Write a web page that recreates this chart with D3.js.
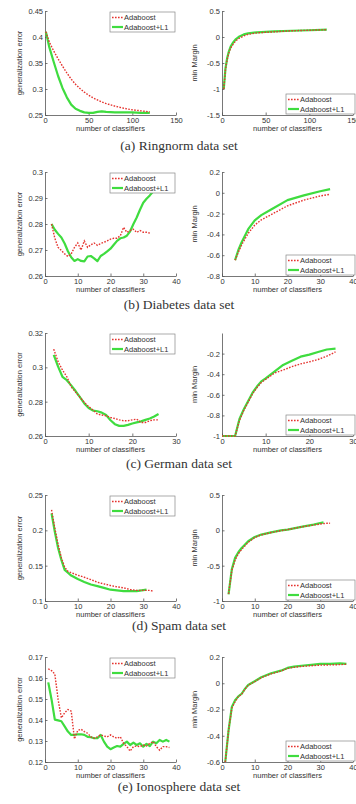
<!DOCTYPE html>
<html>
<head>
<meta charset="utf-8">
<script src="https://cdn.jsdelivr.net/npm/d3@7"></script>
<style>
    body { margin: 0; background: #fff; }
    .axis text { font-family: "Liberation Sans", Arial, sans-serif; font-size: 7.5px; fill: #333; }
    .axis path, .axis line { stroke: #555; stroke-width: 0.8; }
    .title { font-family: "Liberation Sans", Arial, sans-serif; font-size: 7.5px; fill: #333; }
    .caption { font-family: "Liberation Serif", "DejaVu Serif", serif; font-size: 13.5px; fill: #333; }
    .legend text { font-family: "Liberation Sans", Arial, sans-serif; font-size: 7.5px; fill: #333; }
</style>
</head>
<body>
<svg id="chart" width="356" height="804"></svg>
<script>
// (a) Ringnorm
const ringErrN = [1, 5, 10, 15, 20, 25, 30, 35, 40, 45, 50, 55, 60, 65, 70, 80, 90, 100, 110, 120];
const ringErrAda = [0.41, 0.39, 0.373, 0.358, 0.344, 0.331, 0.319, 0.309, 0.301, 0.294, 0.288, 0.283, 0.279, 0.275, 0.272, 0.267, 0.263, 0.26, 0.258, 0.256];
const ringErrL1 = [0.41, 0.38, 0.352, 0.325, 0.302, 0.284, 0.27, 0.262, 0.258, 0.255, 0.254, 0.254, 0.256, 0.257, 0.256, 0.255, 0.255, 0.255, 0.254, 0.254];
const ringMarN = [2, 3, 4, 6, 8, 10, 13, 16, 20, 25, 30, 40, 50, 60, 80, 100, 120];
const ringMarAda = [-1, -0.82, -0.62, -0.43, -0.3, -0.21, -0.13, -0.07, -0.02, 0.02, 0.05, 0.08, 0.09, 0.1, 0.12, 0.13, 0.14];
const ringMarL1 = [-1, -0.8, -0.6, -0.4, -0.27, -0.18, -0.1, -0.04, 0.01, 0.05, 0.07, 0.09, 0.1, 0.11, 0.12, 0.13, 0.14];

// (b) Diabetes
const diabErrAdaN = d3.range(2, 33);
const diabErrAda = [0.28, 0.2745, 0.271, 0.2698, 0.2685, 0.2675, 0.2685, 0.271, 0.2727, 0.27, 0.2735, 0.271, 0.272, 0.2727, 0.2718, 0.2725, 0.273, 0.2735, 0.2742, 0.2745, 0.2745, 0.2755, 0.2787, 0.2768, 0.2775, 0.278, 0.2768, 0.2775, 0.2768, 0.2768, 0.2765];
const diabErrL1N = d3.range(2, 35);
const diabErrL1 = [0.28, 0.2778, 0.2762, 0.2748, 0.2725, 0.2695, 0.2672, 0.2658, 0.2665, 0.2658, 0.2656, 0.2675, 0.2677, 0.2668, 0.2657, 0.2677, 0.2685, 0.2695, 0.2705, 0.272, 0.2735, 0.2745, 0.2748, 0.2755, 0.2772, 0.28, 0.2825, 0.2855, 0.2882, 0.2897, 0.291, 0.2925, 0.2935];
const diabMarN = [4, 5, 6, 8, 10, 12, 15, 20, 25, 30, 33];
const diabMarAda = [-0.648, -0.57, -0.5, -0.39, -0.31, -0.26, -0.21, -0.125, -0.07, -0.03, -0.015];
const diabMarL1 = [-0.648, -0.55, -0.475, -0.35, -0.265, -0.215, -0.16, -0.07, -0.025, 0.015, 0.035];

// (c) German
const germErrN = d3.range(2, 27);
const germErrAda = [0.3106, 0.3033, 0.2984, 0.2945, 0.2886, 0.2856, 0.2826, 0.2796, 0.2771, 0.2751, 0.2728, 0.2722, 0.2718, 0.2708, 0.2702, 0.2694, 0.2689, 0.2689, 0.2694, 0.2698, 0.2679, 0.2679, 0.2689, 0.2694, 0.2694];
const germErrL1 = [0.3072, 0.3004, 0.2945, 0.2925, 0.2895, 0.2862, 0.2826, 0.279, 0.2763, 0.2748, 0.2744, 0.2736, 0.2722, 0.2692, 0.2669, 0.2659, 0.2659, 0.2665, 0.2673, 0.2679, 0.2685, 0.2694, 0.2702, 0.2714, 0.2728];
const germMarN = [0, 1, 2, 3, 4, 5, 6, 7, 8, 9, 10, 12, 14, 16, 18, 20, 22, 24, 26];
const germMarAda = [-1, -1, -1, -1, -0.85, -0.75, -0.67, -0.59, -0.53, -0.48, -0.45, -0.39, -0.36, -0.327, -0.3, -0.28, -0.257, -0.225, -0.184];
const germMarL1 = [-1, -1, -1, -1, -0.835, -0.74, -0.66, -0.58, -0.52, -0.47, -0.44, -0.375, -0.31, -0.27, -0.23, -0.21, -0.184, -0.16, -0.152];

// (d) Spam
const spamErrAdaN = [2, 3, 4, 5, 6, 7, 8, 10, 12, 14, 16, 18, 20, 22, 24, 26, 28, 30, 32, 33];
const spamErrAda = [0.2289, 0.203, 0.18, 0.161, 0.148, 0.142, 0.14, 0.1365, 0.1336, 0.1303, 0.1266, 0.1242, 0.1219, 0.12, 0.1186, 0.1162, 0.115, 0.115, 0.115, 0.1139];
const spamErrL1N = [2, 3, 4, 5, 6, 7, 8, 10, 12, 14, 16, 18, 20, 22, 24, 26, 28, 30, 31];
const spamErrL1 = [0.224, 0.198, 0.175, 0.158, 0.144, 0.14, 0.136, 0.131, 0.127, 0.1233, 0.121, 0.1186, 0.116, 0.115, 0.114, 0.114, 0.114, 0.1154, 0.116];
const spamMarAdaN = [2, 3, 4, 5, 6, 8, 10, 12, 15, 18, 20, 25, 28, 30, 32, 33];
const spamMarAda = [-0.9, -0.57, -0.42, -0.33, -0.27, -0.17, -0.1, -0.065, -0.03, -0.005, 0.01, 0.055, 0.075, 0.09, 0.1, 0.1];
const spamMarL1N = [2, 3, 4, 5, 6, 8, 10, 12, 15, 18, 20, 25, 28, 30, 31];
const spamMarL1 = [-0.906, -0.55, -0.39, -0.31, -0.25, -0.155, -0.094, -0.06, -0.028, 0, 0.01, 0.056, 0.08, 0.103, 0.113];

// (e) Ionosphere
const ionoErrN = d3.range(1, 39);
const ionoErrAda = [0.1644, 0.1635, 0.1619, 0.1498, 0.141, 0.1434, 0.145, 0.1442, 0.131, 0.135, 0.1356, 0.1345, 0.1337, 0.132, 0.1313, 0.132, 0.1329, 0.1324, 0.132, 0.1329, 0.132, 0.1313, 0.132, 0.1289, 0.1273, 0.1252, 0.1273, 0.1276, 0.1273, 0.1281, 0.1276, 0.1289, 0.1297, 0.1273, 0.1256, 0.1273, 0.1273, 0.1269];
const ionoErrL1 = [0.1579, 0.1498, 0.1402, 0.1398, 0.1394, 0.137, 0.1345, 0.1329, 0.1329, 0.1332, 0.1332, 0.1329, 0.132, 0.1318, 0.1313, 0.1313, 0.1329, 0.1297, 0.1273, 0.1261, 0.1269, 0.1276, 0.1273, 0.1286, 0.1297, 0.1281, 0.1292, 0.1281, 0.1289, 0.1273, 0.1286, 0.1276, 0.1297, 0.1289, 0.1305, 0.1297, 0.1305, 0.1297];
const ionoMarN = [1, 2, 3, 4, 5, 6, 7, 8, 10, 12, 15, 18, 20, 22, 25, 28, 30, 33, 36, 38];
const ionoMarAda = [-0.6, -0.36, -0.19, -0.14, -0.1, -0.085, -0.045, -0.015, 0.012, 0.043, 0.072, 0.093, 0.113, 0.122, 0.13, 0.135, 0.138, 0.14, 0.142, 0.145];
const ionoMarL1 = [-0.6, -0.36, -0.18, -0.13, -0.1, -0.08, -0.043, -0.013, 0.015, 0.046, 0.076, 0.096, 0.117, 0.127, 0.135, 0.142, 0.147, 0.147, 0.152, 0.147];

// ticks and labels
const xTicks150 = [0, 50, 100, 150];
const xTicks40 = [0, 10, 20, 30, 40];
const xTicks30 = [0, 10, 20, 30];
const seriesNames = ['Adaboost', 'Adaboost+L1'];
const captions = ['(a) Ringnorm data set', '(b) Diabetes data set', '(c) German data set', '(d) Spam data set', '(e) Ionosphere data set'];

const pair = (n, v) => n.map((d, i) => ({ n: d, v: v[i] }));

let rows = [
    {
        err: { xd: [0, 150], xt: xTicks150, yd: [0.25, 0.45], yt: [0.25, 0.3, 0.35, 0.4, 0.45], ada: pair(ringErrN, ringErrAda), l1: pair(ringErrN, ringErrL1) },
        mar: { xd: [0, 150], xt: xTicks150, yd: [-1.5, 0.5], yt: [-1.5, -1, -0.5, 0, 0.5], ada: pair(ringMarN, ringMarAda), l1: pair(ringMarN, ringMarL1) }
    },
    {
        err: { xd: [0, 40], xt: xTicks40, yd: [0.26, 0.3], yt: [0.26, 0.27, 0.28, 0.29, 0.3], ada: pair(diabErrAdaN, diabErrAda), l1: pair(diabErrL1N, diabErrL1) },
        mar: { xd: [0, 40], xt: xTicks40, yd: [-0.8, 0.2], yt: [-0.8, -0.6, -0.4, -0.2, 0, 0.2], ada: pair(diabMarN, diabMarAda), l1: pair(diabMarN, diabMarL1) }
    },
    {
        err: { xd: [0, 30], xt: xTicks30, yd: [0.26, 0.32], yt: [0.26, 0.28, 0.3, 0.32], ada: pair(germErrN, germErrAda), l1: pair(germErrN, germErrL1) },
        mar: { xd: [0, 30], xt: xTicks30, yd: [-1, 0], yt: [-1, -0.8, -0.6, -0.4, -0.2], ada: pair(germMarN, germMarAda), l1: pair(germMarN, germMarL1) }
    },
    {
        err: { xd: [0, 40], xt: xTicks40, yd: [0.1, 0.25], yt: [0.1, 0.15, 0.2, 0.25], ada: pair(spamErrAdaN, spamErrAda), l1: pair(spamErrL1N, spamErrL1) },
        mar: { xd: [0, 40], xt: xTicks40, yd: [-1, 0.5], yt: [-1, -0.5, 0, 0.5], ada: pair(spamMarAdaN, spamMarAda), l1: pair(spamMarL1N, spamMarL1) }
    },
    {
        err: { xd: [0, 40], xt: xTicks40, yd: [0.12, 0.17], yt: [0.12, 0.13, 0.14, 0.15, 0.16, 0.17], ada: pair(ionoErrN, ionoErrAda), l1: pair(ionoErrN, ionoErrL1) },
        mar: { xd: [0, 40], xt: xTicks40, yd: [-0.6, 0.2], yt: [-0.6, -0.4, -0.2, 0, 0.2], ada: pair(ionoMarN, ionoMarAda), l1: pair(ionoMarN, ionoMarL1) }
    }
];

// layout of each row: axis top / bottom and caption baseline
const layout = [
    { top: 11, bot: 115, cap: 150 },
    { top: 172, bot: 276, cap: 309 },
    { top: 333, bot: 436, cap: 468 },
    { top: 495, bot: 601, cap: 630 },
    { top: 657, bot: 762, cap: 791 }
];

const RED = '#e5332e';
const GREEN = '#3fdc3f';

let svg = d3.select('#chart');

function drawPanel(p, x0, x1, top, bot, yTitle, titleX, legendTop) {
    let x = d3.scaleLinear().domain(p.xd).range([x0, x1]);
    let y = d3.scaleLinear().domain(p.yd).range([bot, top]);

    svg.append('g')
        .attr('class', 'axis')
        .attr('transform', `translate(0, ${bot})`)
        .call(d3.axisBottom(x).tickValues(p.xt).tickFormat(d => String(d)).tickSizeInner(-2.5).tickSizeOuter(0).tickPadding(3));

    svg.append('g')
        .attr('class', 'axis')
        .attr('transform', `translate(${x0}, 0)`)
        .call(d3.axisLeft(y).tickValues(p.yt).tickFormat(d => String(d)).tickSizeInner(-2.5).tickSizeOuter(0).tickPadding(2));

    svg.append('text')
        .attr('class', 'title')
        .attr('x', (x0 + x1) / 2)
        .attr('y', bot + 16)
        .attr('text-anchor', 'middle')
        .text('number of classifiers');

    svg.append('text')
        .attr('class', 'title')
        .attr('transform', `translate(${titleX}, ${(top + bot) / 2}) rotate(-90)`)
        .attr('text-anchor', 'middle')
        .text(yTitle);

    let line = d3.line().x(d => x(d.n)).y(d => y(d.v));

    svg.append('path').datum(p.l1)
        .attr('d', line)
        .attr('fill', 'none')
        .attr('stroke', GREEN)
        .attr('stroke-width', 2.2)
        .attr('stroke-linejoin', 'round');

    svg.append('path').datum(p.ada)
        .attr('d', line)
        .attr('fill', 'none')
        .attr('stroke', RED)
        .attr('stroke-width', 1.4)
        .attr('stroke-dasharray', '1.6,1.4');

    // legend
    let lx = legendTop ? 110 : 286;
    let ly = legendTop ? top + 1 : bot - 21;
    let lw = legendTop ? 65 : 69;
    let lg = svg.append('g').attr('class', 'legend').attr('transform', `translate(${lx}, ${ly})`);
    lg.append('rect').attr('width', lw).attr('height', 20).attr('fill', '#fff').attr('stroke', '#888').attr('stroke-width', 0.7);
    seriesNames.forEach((name, i) => {
        let yy = 5.5 + i * 9.5;
        lg.append('line')
            .attr('x1', 2).attr('x2', 13).attr('y1', yy).attr('y2', yy)
            .attr('stroke', i === 0 ? RED : GREEN)
            .attr('stroke-width', i === 0 ? 1.4 : 2.2)
            .attr('stroke-dasharray', i === 0 ? '1.6,1.4' : null);
        lg.append('text').attr('x', 14).attr('y', yy + 2.7).text(name);
    });
}

rows.forEach((r, i) => {
    let L = layout[i];
    drawPanel(r.err, 45, 176, L.top, L.bot, 'generalization error', 22, true);
    drawPanel(r.mar, 222, 353, L.top, L.bot, 'min Margin', 197, false);
    svg.append('text')
        .attr('class', 'caption')
        .attr('x', 179)
        .attr('y', L.cap)
        .attr('text-anchor', 'middle')
        .text(captions[i]);
});
</script>
</body>
</html>
